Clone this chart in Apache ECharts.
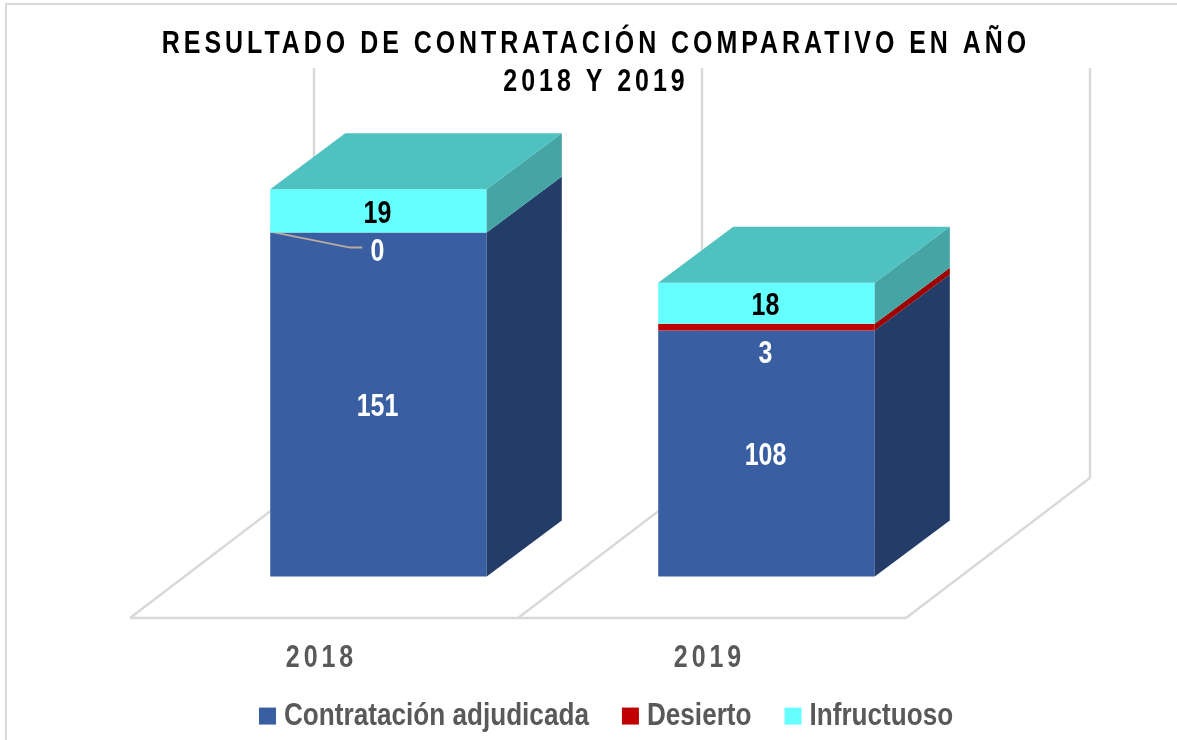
<!DOCTYPE html>
<html>
<head>
<meta charset="utf-8">
<style>html,body{margin:0;padding:0;background:#fff}#chart{width:1177px;height:740px}</style>
<script src="https://cdn.jsdelivr.net/npm/echarts@6/dist/echarts.min.js"></script>
</head>
<body>
<div id="chart"></div>
<script>
const titleText = 'RESULTADO DE CONTRATACIÓN COMPARATIVO EN AÑO\n2018 Y 2019';
const categories = ['2018', '2019'];
const adjudicada = [151, 108];
const desierto = [0, 3];
const infructuoso = [19, 18];
const seriesNames = ['Contratación adjudicada', 'Desierto', 'Infructuoso'];

// Styles
const frontColors = ['#3A5EA2', '#C00000', '#66FFFF'];
const sideColors = ['#233D68', '#9C0000', '#45A4A4'];
const topColor = '#4FC1C1';
const labelColors = ['#FFFFFF', '#FFFFFF', '#000000'];
const wallColor = '#D9D9D9';
const leaderColor = '#B9AC9E';
const narrow = '"Liberation Sans"';
const spaced = '"Liberation Sans", Arimo';
const NARROW_SCALE = 0.78, LEGEND_SCALE = 0.843, TRACKING = 5.1;
const DEPTH_X = 184, DEPTH_Y = 140, FRONT = 0.296, BACK_X = 0.704, BACK_Y = 0.696, BAR = 0.558;

// The chart's typeface is a condensed sans with tracked headings: condense Liberation Sans
// horizontally, and track the title and the category labels.
const baseFillText = CanvasRenderingContext2D.prototype.fillText;
const baseMeasure = CanvasRenderingContext2D.prototype.measureText;
function condense(ctx) { return ctx.font.indexOf('31px') >= 0 ? LEGEND_SCALE : NARROW_SCALE; }
CanvasRenderingContext2D.prototype.fillText = function (t, x, y, m) {
  if (this.font.indexOf('Liberation Sans') < 0) return baseFillText.call(this, t, x, y, m === undefined ? 1e5 : m);
  this.save();
  this.letterSpacing = this.font.indexOf('Arimo') >= 0 ? TRACKING + 'px' : '0px';
  this.translate(x, y);
  this.scale(condense(this), 1);
  baseFillText.call(this, t, 0, 0);
  this.restore();
};
CanvasRenderingContext2D.prototype.measureText = function (t) {
  const r = baseMeasure.call(this, t);
  if (this.font.indexOf('Liberation Sans') < 0) return r;
  return { width: r.width * condense(this), actualBoundingBoxAscent: r.actualBoundingBoxAscent, actualBoundingBoxDescent: r.actualBoundingBoxDescent, actualBoundingBoxLeft: r.actualBoundingBoxLeft, actualBoundingBoxRight: r.actualBoundingBoxRight, fontBoundingBoxAscent: r.fontBoundingBoxAscent, fontBoundingBoxDescent: r.fontBoundingBoxDescent };
};

function renderFloor(params, api) {
  const c = params.coordSys;
  const band = c.width / categories.length;
  const lineStyle = { stroke: wallColor, lineWidth: 2.5, fill: null };
  const children = [{ type: 'line', shape: { x1: c.x, y1: c.y + c.height, x2: c.x + c.width, y2: c.y + c.height }, style: lineStyle }];
  for (let i = 0; i <= categories.length; i++) {
    const x = c.x + i * band;
    children.push({
      type: 'polyline',
      shape: { points: [[x, c.y + c.height], [x + DEPTH_X, c.y + c.height - DEPTH_Y], [x + DEPTH_X, c.y - DEPTH_Y]] },
      style: lineStyle
    });
  }
  return { type: 'group', children };
}

function makeBar(si, isTop) {
  return function (params, api) {
    const cat = api.value(0), base = api.value(1), val = api.value(2);
    const band = api.size([1, 0])[0];
    const p0 = api.coord([cat, base]), p1 = api.coord([cat, base + val]);
    const ox = DEPTH_X * FRONT, oy = DEPTH_Y * FRONT;
    const dx = DEPTH_X * (BACK_X - FRONT), dy = DEPTH_Y * (BACK_Y - FRONT);
    const w = band * BAR;
    const xl = p0[0] + ox - w / 2, xr = xl + w;
    const yb = p0[1] - oy, yt = p1[1] - oy;
    const children = [
      { type: 'rect', shape: { x: xl, y: yt, width: w, height: yb - yt }, style: { fill: frontColors[si] } },
      { type: 'polygon', shape: { points: [[xr, yb], [xr, yt], [xr + dx, yt - dy], [xr + dx, yb - dy]] }, style: { fill: sideColors[si] } }
    ];
    if (isTop) {
      children.push({ type: 'polygon', shape: { points: [[xl, yt], [xr, yt], [xr + dx, yt - dy], [xl + dx, yt - dy]] }, style: { fill: topColor } });
    }
    let ly = (yb + yt) / 2 + 3;
    if (si === 1) ly = yb + 24;
    if (si === 1 && val === 0) {
      ly = yb + 20;
      children.push({ type: 'polyline', shape: { points: [[xl, yb - 1], [xl + 80, yb + 15], [xl + 92, yb + 15]] }, style: { stroke: leaderColor, lineWidth: 2, fill: null } });
    }
    children.push({ type: 'text', style: { text: String(val), x: (xl + xr) / 2 - 1, y: ly, fill: labelColors[si], font: 'bold 32px ' + narrow, align: 'center', verticalAlign: 'middle' } });
    return { type: 'group', children };
  };
}

function stacked(si) {
  const all = [adjudicada, desierto, infructuoso];
  return categories.map((_, i) => {
    let base = 0;
    for (let k = 0; k < si; k++) base += all[k][i];
    return [i, base, all[si][i]];
  });
}

const chart = echarts.init(document.getElementById('chart'), null, { renderer: 'canvas' });
chart.setOption({
  animation: false,
  backgroundColor: '#fff',
  title: {
    text: titleText, left: 591, top: 20, textAlign: 'center',
    textStyle: { fontFamily: spaced, fontWeight: 'bold', fontSize: 32, lineHeight: 38, color: '#000' }
  },
  graphic: [{ type: 'rect', shape: { x: 6, y: 4, width: 1400, height: 1000 }, style: { fill: null, stroke: wallColor, lineWidth: 2 }, silent: true, z: -1 }],
  legend: {
    data: seriesNames, left: 259, top: 703, padding: 0, icon: 'rect', itemWidth: 17, itemHeight: 17, itemGap: 33,
    selectedMode: false,
    textStyle: { fontFamily: narrow, fontWeight: 'bold', fontSize: 31, color: '#595959', padding: [0, 0, 0, 3] }
  },
  grid: { left: 130, top: 208, width: 776, height: 410, containLabel: false },
  xAxis: {
    type: 'category', data: categories,
    axisLine: { show: false }, axisTick: { show: false },
    axisLabel: { margin: 28, padding: [0, 5, 0, 0], fontFamily: spaced, fontWeight: 'bold', fontSize: 32, color: '#595959' }
  },
  yAxis: { type: 'value', min: 0, max: 180, interval: 60, show: false, splitLine: { show: false } },
  series: [
    { type: 'custom', name: 'floor', silent: true, data: [[0, 0]], renderItem: renderFloor, encode: { x: 0, y: 1 } },
    ...seriesNames.map((name, si) => ({
      type: 'custom', name, silent: true,
      coordinateSystem: 'cartesian2d',
      itemStyle: { color: frontColors[si] },
      data: stacked(si),
      encode: { x: 0, y: 2 },
      renderItem: makeBar(si, si === seriesNames.length - 1)
    }))
  ]
});
</script>
</body>
</html>
